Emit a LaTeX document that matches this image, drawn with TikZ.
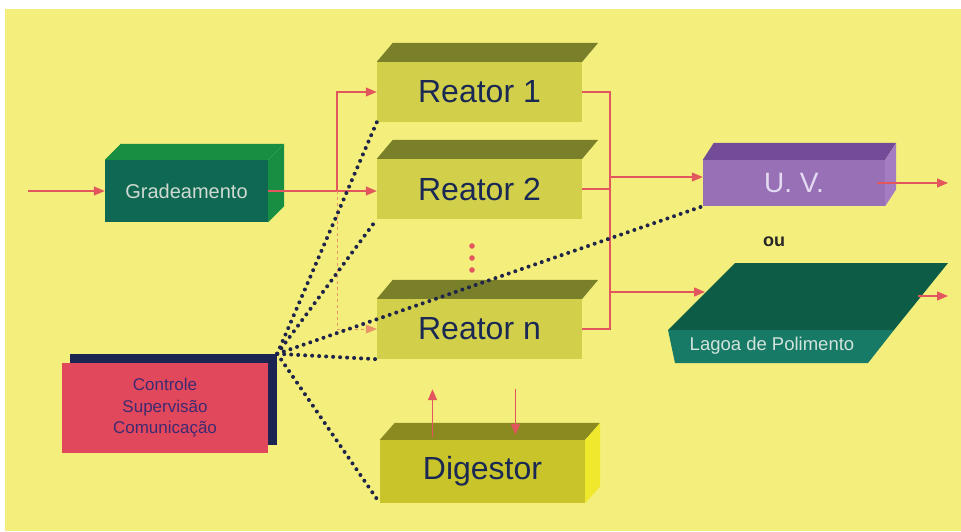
\documentclass[tikz,border=0pt]{standalone}
\usepackage{fontspec}
\setmainfont{Liberation Sans}
\usepackage{xcolor}
\usepackage{tikz}
\usetikzlibrary{arrows.meta,shapes}

\definecolor{paper}{RGB}{244,239,124}
\definecolor{flowred}{RGB}{226,86,94}
\definecolor{wire}{RGB}{30,36,74}
\definecolor{reactfront}{RGB}{210,208,74}
\definecolor{reacttop}{RGB}{122,128,42}
\definecolor{reacttext}{RGB}{26,40,84}
\definecolor{digfront}{RGB}{200,196,42}
\definecolor{digtop}{RGB}{138,138,32}
\definecolor{digside}{RGB}{240,232,44}
\definecolor{gradfront}{RGB}{14,104,82}
\definecolor{gradtop}{RGB}{24,142,66}
\definecolor{gradtext}{RGB}{208,218,210}
\definecolor{uvfront}{RGB}{152,112,182}
\definecolor{uvtop}{RGB}{114,76,150}
\definecolor{uvside}{RGB}{164,124,194}
\definecolor{uvtext}{RGB}{228,218,242}
\definecolor{lagtop}{RGB}{12,92,70}
\definecolor{lagfront}{RGB}{22,122,102}
\definecolor{lagtext}{RGB}{210,228,220}
\definecolor{ctrlred}{RGB}{226,72,92}
\definecolor{ctrlnavy}{RGB}{28,36,82}
\definecolor{ctrltext}{RGB}{62,42,112}

% top and right faces of a box node: node, depth x, depth y, top, side
\newcommand{\boxfaces}[5]{%
  \fill[#4] (#1.north west) -- ++(#2,-#3) -- ([shift={(#2,-#3)}]#1.north east) -- (#1.north east) -- cycle;
  \fill[#5] (#1.north east) -- ([shift={(#2,-#3)}]#1.north east) -- ([shift={(#2,-#3)}]#1.south east) -- (#1.south east) -- cycle;}

\begin{document}
\begin{tikzpicture}[x=1pt, y=-1pt, >={Triangle[length=11pt,width=9pt]}, node distance=97pt,
  block/.style={rectangle, inner sep=0pt, font=\fontsize{32}{36}\selectfont, text=reacttext},
  reactor/.style={block, fill=reactfront, minimum width=205pt, minimum height=60pt},
  feed/.style={flowred, line width=1.3pt},
  flow/.style={feed, ->},
  faint/.style={->, flowred!60!paper, line width=0.6pt, dashed},
  signal/.style={wire, line width=4pt, line cap=round, dash pattern=on 0pt off 7pt}]
\useasboundingbox (0,0) rectangle (961,531);
\fill[paper] (5,9) rectangle (961,531);

\node[block, fill=gradfront, minimum width=163pt, minimum height=62pt, text=gradtext, font=\fontsize{20}{24}\selectfont] (grade) at (186.5,191) {Gradeamento};
\node[reactor] (r1) at (479.5,92) {Reator 1};
\node[reactor] (r2) [below of=r1] {Reator 2};
\node[reactor] (rn) [node distance=140pt, below of=r2] {Reator n};
\node[reactor, fill=digfront, minimum height=63pt] (dig) at (482.5,471.5) {Digestor};
\node[block, fill=uvfront, minimum width=182pt, minimum height=46pt, text=uvtext, font=\fontsize{28}{32}\selectfont] (uv) at (794,183) {U.\ V.};

\boxfaces{grade}{16}{16}{gradtop}{gradtop}
\boxfaces{r1}{16}{19}{reacttop}{fill=none}
\boxfaces{r2}{16}{19}{reacttop}{fill=none}
\boxfaces{rn}{16}{19}{reacttop}{fill=none}
\boxfaces{dig}{15}{17}{digtop}{digside}
\boxfaces{uv}{11}{17}{uvtop}{uvside}

\fill[lagtop] (735,263) -- (948,263) -- (894,330) -- (668,330) -- cycle;
\fill[lagfront] (668,330) -- (894,330) -- (868,363) -- (675,363) -- cycle;
\node[text=lagtext, font=\fontsize{18.5}{22}\selectfont] (lagoa) at (772,346) {Lagoa de Polimento};

\node[rectangle, fill=ctrlnavy, minimum width=207pt, minimum height=91pt] (ctrlback) at (173.5,399.5) {};
\node[rectangle, fill=ctrlred, minimum width=206pt, minimum height=90pt, align=center, text=ctrltext, font=\fontsize{17}{21.5}\selectfont] (ctrl) at (165,408) {Controle\\Supervisão\\Comunicação};

\node[text=black!85, font=\bfseries\fontsize{18}{20}\selectfont] (ou) at (774,242) {ou};

\foreach \y in {246,258,270}
  \fill[flowred] (472,\y) circle (2.8pt);

\coordinate (in) at (28,191);
\coordinate (split) at (337,191);
\coordinate (join) at (610,92);
\coordinate (uvin) at ([yshift=6pt]uv.west);
\coordinate (lagin) at (705,292);
\coordinate (uvout) at (948,183);
\coordinate (lagout) at (948,296);

\draw[flow] (in) -- (grade);
\draw[flow] (grade.east) -- (grade.east -| r2.west);
\draw[flow] (split) |- (r1);
\draw[faint] (split) |- (rn);

\draw[feed] (r1) -- (r1 -| join) -- (rn -| join) -- (rn);
\draw[feed] (r2) -- (r2 -| join);
\draw[flow] (uvin -| join) -- (uvin);
\draw[flow] (lagin -| join) -- (lagin);
\draw[flow] ([xshift=-8pt]uv.east) -- (uvout);
\draw[flow] ([xshift=-30pt]lagout) -- (lagout);

\draw[flow] ([xshift=-50pt,yshift=3pt]dig.north) -- ([xshift=-47pt,yshift=-30pt]rn.south);
\draw[flow] ([xshift=36pt,yshift=-30pt]rn.south) -- ([xshift=33pt,yshift=5pt]dig.north);

\draw[signal] (ctrlback.north east) -- (r1.south west);
\draw[signal] (ctrlback.north east) -- (r2.south west);
\draw[signal] (ctrlback.north east) -- (uv.south west);
\draw[signal] (ctrlback.north east) -- (rn.south west);
\draw[signal] (ctrlback.north east) -- (dig.south west);
\end{tikzpicture}
\end{document}
